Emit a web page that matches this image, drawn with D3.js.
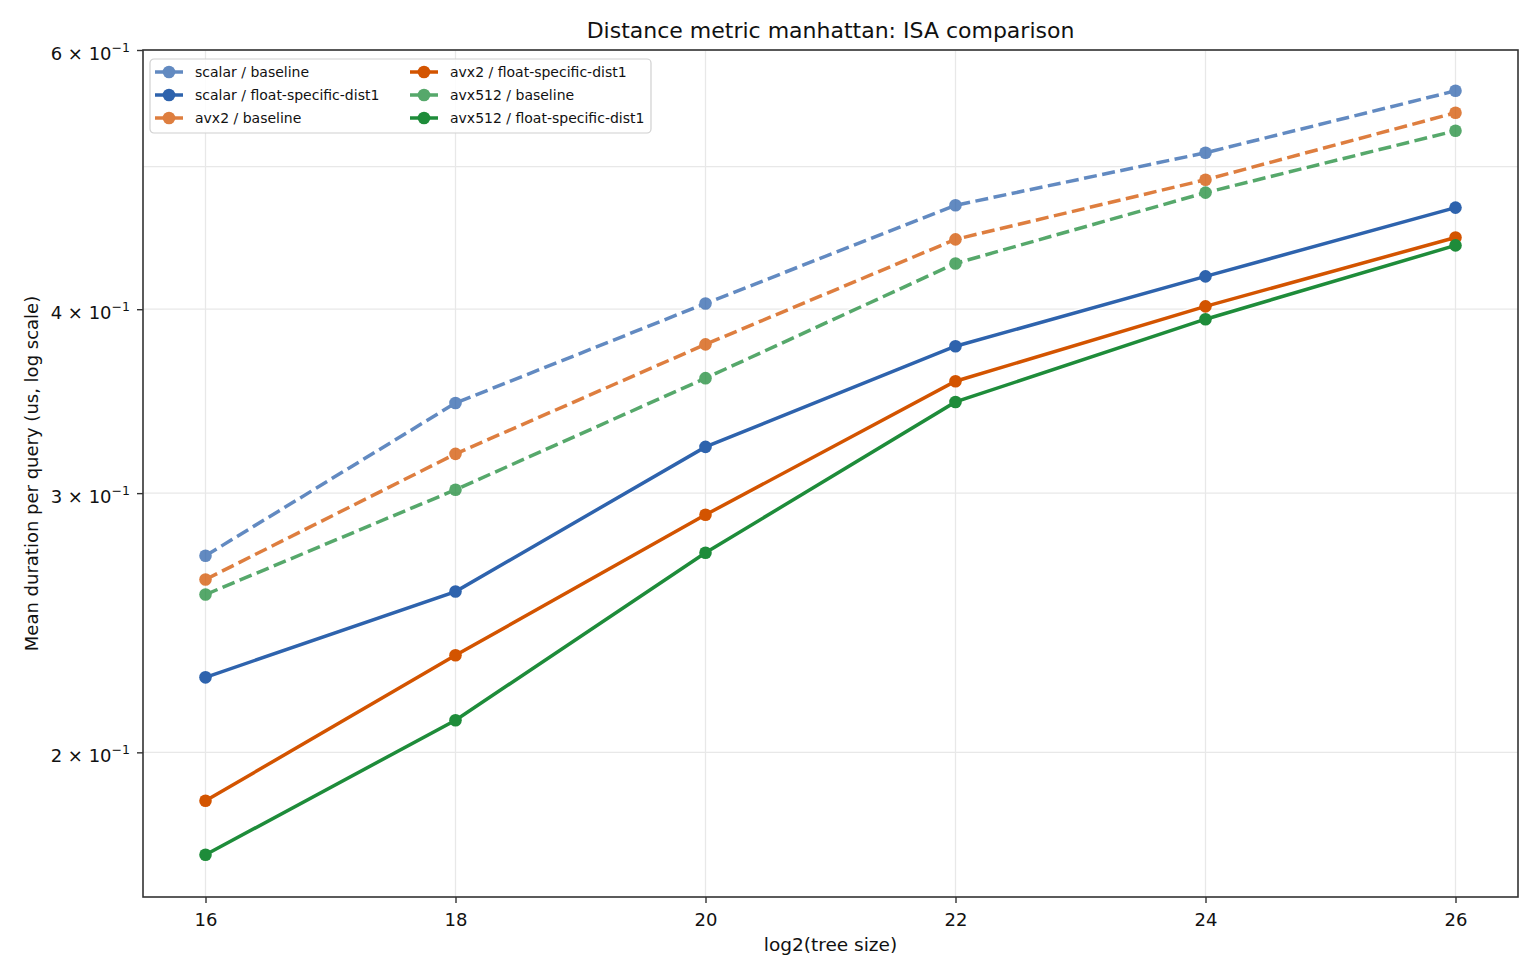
<!DOCTYPE html>
<html>
<head>
<meta charset="utf-8">
<script src="https://cdn.jsdelivr.net/npm/d3@7"></script>
<style>
  body { margin: 0; background: #fff; }
  svg { font-family: "DejaVu Sans", sans-serif; }
</style>
</head>
<body>
<div id="chart"></div>
<script>
// data (log2 tree size vs mean duration, us)
var treeSizes = [16, 18, 20, 22, 24, 26];
var scalarBaseline = [0.2720, 0.3454, 0.4036, 0.4706, 0.5109, 0.5629];
var scalarFloat    = [0.2249, 0.2572, 0.3225, 0.3775, 0.4211, 0.4689];
var avx2Baseline   = [0.2621, 0.3190, 0.3786, 0.4462, 0.4898, 0.5439];
var avx2Float      = [0.1854, 0.2328, 0.2900, 0.3574, 0.4018, 0.4475];
var avx512Baseline = [0.2560, 0.3016, 0.3591, 0.4297, 0.4800, 0.5288];
var avx512Float    = [0.1704, 0.2103, 0.2733, 0.3460, 0.3938, 0.4420];
var yTicks = [2, 3, 4, 6];
var yGrid = [2, 3, 4, 5, 6];
var xTicks = [16, 18, 20, 22, 24, 26];

var series = [
  {name: "scalar / baseline", values: scalarBaseline, color: "#2e63ad", dashed: true},
  {name: "scalar / float-specific-dist1", values: scalarFloat, color: "#2e63ad", dashed: false},
  {name: "avx2 / baseline", values: avx2Baseline, color: "#d35400", dashed: true},
  {name: "avx2 / float-specific-dist1", values: avx2Float, color: "#d35400", dashed: false},
  {name: "avx512 / baseline", values: avx512Baseline, color: "#1e8c3a", dashed: true},
  {name: "avx512 / float-specific-dist1", values: avx512Float, color: "#1e8c3a", dashed: false}
];

var W = 1540, H = 980;
var margin = {top: 50, right: 22, bottom: 83, left: 143};
var width = W - margin.left - margin.right,
    height = H - margin.top - margin.bottom;

var svg = d3.select("#chart").append("svg")
  .attr("width", W).attr("height", H);
var g = svg.append("g")
  .attr("transform", "translate(" + margin.left + "," + margin.top + ")");

var x = d3.scaleLinear().domain([15.5, 26.5]).range([0, width]);
var y = d3.scaleLog().domain([0.1595, 0.6]).range([height, 0]);

// grid
g.selectAll(".vgrid").data(xTicks).enter().append("line")
  .attr("x1", function(d) { return x(d); }).attr("x2", function(d) { return x(d); })
  .attr("y1", 0).attr("y2", height)
  .style("stroke", "#e8e8e8").style("stroke-width", 1.3);
g.selectAll(".hgrid").data(yGrid).enter().append("line")
  .attr("x1", 0).attr("x2", width)
  .attr("y1", function(d) { return y(d / 10); }).attr("y2", function(d) { return y(d / 10); })
  .style("stroke", "#e8e8e8").style("stroke-width", 1.3);

// axes
var xAxis = g.append("g")
  .attr("transform", "translate(0," + height + ")")
  .call(d3.axisBottom(x).tickValues(xTicks).tickSize(6).tickPadding(10).tickFormat(d3.format("d")));
xAxis.select(".domain").remove();
xAxis.selectAll("line").style("stroke", "#333").style("stroke-width", 1.4);
xAxis.selectAll("text").style("font-size", "18px").style("fill", "#111")
  .style("font-family", "DejaVu Sans");

var yAxis = g.append("g")
  .call(d3.axisLeft(y).tickValues(yTicks.map(function(d) { return d / 10; })).tickSize(6).tickFormat(""));
yAxis.select(".domain").remove();
yAxis.selectAll("line").style("stroke", "#333").style("stroke-width", 1.4);

yTicks.forEach(function(t) {
  var lab = g.append("text")
    .attr("x", -13).attr("y", y(t / 10) + 10)
    .attr("text-anchor", "end")
    .style("font-size", "18px").style("fill", "#111");
  lab.append("tspan").text(t + " \u00d7 10");
  lab.append("tspan").attr("dy", -8).style("font-size", "12.5px").text("\u22121");
});

// frame
g.append("rect").attr("width", width).attr("height", height)
  .style("fill", "none").style("stroke", "#333").style("stroke-width", 1.6);

// lines
var line = d3.line()
  .x(function(d, i) { return x(treeSizes[i]); })
  .y(function(d) { return y(d); });

series.forEach(function(s) {
  var grp = g.append("g").style("opacity", s.dashed ? 0.75 : 1);
  grp.append("path").datum(s.values)
    .attr("d", line)
    .style("fill", "none").style("stroke", "#fff").style("stroke-opacity", 0.8)
    .style("stroke-width", 6.5)
    .style("stroke-linejoin", "round");
  grp.append("path").datum(s.values)
    .attr("d", line)
    .style("fill", "none").style("stroke", s.color)
    .style("stroke-width", 3.5)
    .style("stroke-dasharray", s.dashed ? "13,5.5" : null);
  grp.selectAll("circle").data(s.values).enter().append("circle")
    .attr("cx", function(d, i) { return x(treeSizes[i]); })
    .attr("cy", function(d) { return y(d); })
    .attr("r", 6.3)
    .style("fill", s.color);
});

// title and labels
svg.append("text")
  .attr("x", margin.left + width / 2).attr("y", 38)
  .attr("text-anchor", "middle")
  .style("font-size", "22px").style("fill", "#111")
  .text("Distance metric manhattan: ISA comparison");

svg.append("text")
  .attr("x", margin.left + width / 2).attr("y", 951)
  .attr("text-anchor", "middle")
  .style("font-size", "18.5px").style("fill", "#111")
  .text("log2(tree size)");

svg.append("text")
  .attr("transform", "translate(38," + (margin.top + height / 2) + ") rotate(-90)")
  .attr("text-anchor", "middle")
  .style("font-size", "18px").style("fill", "#111")
  .text("Mean duration per query (us, log scale)");

// legend
var legend = g.append("g").attr("transform", "translate(7,9)");
legend.append("rect")
  .attr("width", 501).attr("height", 74).attr("rx", 4)
  .style("fill", "#fff").style("fill-opacity", 0.85)
  .style("stroke", "#d0d0d0").style("stroke-width", 1.2);

series.forEach(function(s, i) {
  var col = Math.floor(i / 3), row = i % 3;
  var lx = 5 + col * 255, ly = 13 + row * 23;
  var item = legend.append("g").attr("transform", "translate(" + lx + "," + ly + ")")
    .style("opacity", s.dashed ? 0.75 : 1);
  item.append("line")
    .attr("x1", 0).attr("x2", 28).attr("y1", 0).attr("y2", 0)
    .style("stroke", s.color).style("stroke-width", 3.5)
    .style("stroke-dasharray", s.dashed ? "13,5.5" : null);
  item.append("circle").attr("cx", 14).attr("cy", 0).attr("r", 6.3).style("fill", s.color);
  legend.append("text")
    .attr("x", lx + 40).attr("y", ly + 5)
    .style("font-size", "14px").style("fill", "#111")
    .text(s.name);
});
</script>
</body>
</html>
